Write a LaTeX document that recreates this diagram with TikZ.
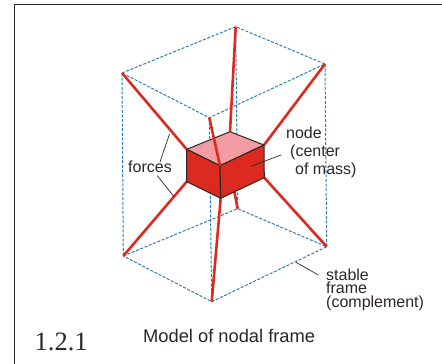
\documentclass[tikz,border=0pt]{standalone}
\usepackage{fontspec}
\setmainfont{Liberation Sans}
\newfontfamily\numfont{Liberation Serif}
\usetikzlibrary{positioning}
\definecolor{framecol}{HTML}{2F7DB4}
\definecolor{forcecol}{HTML}{DC2A20}
\definecolor{topcol}{HTML}{F29DA4}
\definecolor{inkcol}{HTML}{2B2724}

\begin{document}
\begin{tikzpicture}[x=1pt,y=-1pt]
    \tikzstyle{frame edge}=[draw=framecol, dash pattern=on 3pt off 1.6pt, line width=1pt]
    \tikzstyle{force}=[draw=forcecol, line width=2.6pt]
    \tikzstyle{block}=[draw=inkcol, line width=1pt, line join=round]
    \tikzstyle{leader}=[draw=inkcol, line width=0.7pt]
    \tikzstyle{label}=[text=inkcol, font=\fontsize{16}{18}\selectfont, inner sep=0pt, align=left, anchor=west]

    \useasboundingbox (0,0) rectangle (442,364);

    % Draw the outer border
    \draw[inkcol, line width=1.2pt] (14.7,364) -- (14.7,4.7) -- (442,4.7);

    % Corners of the stable frame
    \coordinate (T-l) at (122,73);
    \coordinate (T-b) at (235.7,26.7);
    \coordinate (T-r) at (325,64);
    \coordinate (T-f) at (209.3,117.7);
    \coordinate (B-l) at (123.3,256);
    \coordinate (B-b) at (237.7,208.7);
    \coordinate (B-r) at (326.7,246.7);
    \coordinate (B-f) at (211.7,301.7);

    % Corners of the node
    \coordinate (C-l) at (186.7,149.3);
    \coordinate (C-b) at (230,131.7);
    \coordinate (C-r) at (264,145);
    \coordinate (C-f) at (220,165.7);
    \coordinate (D-l) at (186.7,181.7);
    \coordinate (D-r) at (264.3,177.7);
    \coordinate (D-f) at (220.7,198.3);
    \coordinate (D-b) at (234,190);

    % Draw the frame edges
    \foreach \corner in {l,b,r,f}
        \draw[frame edge] (T-\corner) -- (B-\corner);
    \draw[frame edge] (T-l) -- (T-b) -- (T-r) -- (T-f) -- cycle;
    \draw[frame edge] (B-l) -- (B-b) -- (B-r) -- (B-f) -- cycle;

    % Connect the frame with the node
    \foreach \corner in {l,b,r}
        \draw[force] (T-\corner) -- (C-\corner);
    \foreach \corner in {l,b,r,f}
        \draw[force] (B-\corner) -- (D-\corner);

    % Draw the node
    \filldraw[block, fill=topcol] (C-l) -- (C-b) -- (C-r) -- (C-f) -- cycle;
    \filldraw[block, fill=forcecol] (C-l) -- (C-f) -- (D-f) -- (D-l) -- cycle;
    \filldraw[block, fill=forcecol] (C-f) -- (C-r) -- (D-r) -- (D-f) -- cycle;
    \draw[force] (T-f) -- (C-f);

    % Labels
    \node[label] (forces) at (128,166.5) {forces};
    \node[label, anchor=north west] (mass) at (286,127) {node\\\hspace*{4pt}(center\\\hspace*{9pt}of mass)};
    \node[label, anchor=north west, font=\fontsize{16}{13.7}\selectfont] (stable) at (326,268.5) {stable\\frame\\(complement)};
    \node[label, font=\fontsize{18.3}{20}\selectfont] (title) at (143,335.5) {Model of nodal frame};
    \node[label, font=\numfont\fontsize{26.5}{29}\selectfont] (number) at (34.5,342) {1.2.1};

    % Leader lines
    \coordinate (F-a) at (169.5,134);
    \coordinate (F-b) at (160,162);
    \coordinate (F-c) at (157.3,175.7);
    \coordinate (F-d) at (174,196.7);
    \coordinate (N-a) at (281,155);
    \coordinate (N-b) at (251,166.3);
    \coordinate (S-a) at (318.3,275);
    \coordinate (S-b) at (296,262.3);
    \draw[leader] (F-a) -- (F-b);
    \draw[leader] (F-c) -- (F-d);
    \draw[leader] (N-a) -- (N-b);
    \draw[leader] (S-a) -- (S-b);
\end{tikzpicture}
\end{document}
